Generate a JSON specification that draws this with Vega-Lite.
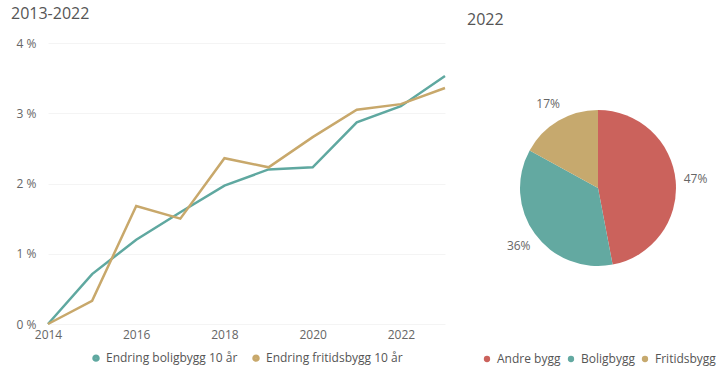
{
  "$schema": "https://vega.github.io/schema/vega-lite/v6.json",
  "background": "white",
  "padding": {"left": 11, "top": 6, "right": 0, "bottom": 0},
  "spacing": 17,
  "resolve": {"scale": {"color": "independent"}, "legend": {"color": "independent"}},
  "config": {
    "view": {"stroke": null},
    "font": "Open Sans",
    "title": {"fontSize": 16, "fontWeight": "normal", "color": "#555555", "anchor": "start"},
    "axis": {"labelColor": "#666666", "labelFontSize": 12, "grid": false, "domain": false, "ticks": false},
    "legend": {"labelColor": "#555555", "labelFontSize": 12, "symbolType": "circle", "symbolSize": 40, "orient": "bottom", "direction": "horizontal", "title": null, "columnPadding": 4, "symbolOffset": 0, "layout": {"bottom": {"anchor": "middle"}}}
  },
  "datasets": {
    "linjer": [
      {"year": 2014, "serie": "Endring boligbygg 10 år", "value": 0},
      {"year": 2015, "serie": "Endring boligbygg 10 år", "value": 0.71},
      {"year": 2016, "serie": "Endring boligbygg 10 år", "value": 1.2},
      {"year": 2017, "serie": "Endring boligbygg 10 år", "value": 1.59},
      {"year": 2018, "serie": "Endring boligbygg 10 år", "value": 1.97},
      {"year": 2019, "serie": "Endring boligbygg 10 år", "value": 2.2},
      {"year": 2020, "serie": "Endring boligbygg 10 år", "value": 2.23},
      {"year": 2021, "serie": "Endring boligbygg 10 år", "value": 2.87},
      {"year": 2022, "serie": "Endring boligbygg 10 år", "value": 3.1},
      {"year": 2023, "serie": "Endring boligbygg 10 år", "value": 3.53},
      {"year": 2014, "serie": "Endring fritidsbygg 10 år", "value": 0},
      {"year": 2015, "serie": "Endring fritidsbygg 10 år", "value": 0.33},
      {"year": 2016, "serie": "Endring fritidsbygg 10 år", "value": 1.68},
      {"year": 2017, "serie": "Endring fritidsbygg 10 år", "value": 1.5},
      {"year": 2018, "serie": "Endring fritidsbygg 10 år", "value": 2.36},
      {"year": 2019, "serie": "Endring fritidsbygg 10 år", "value": 2.23},
      {"year": 2020, "serie": "Endring fritidsbygg 10 år", "value": 2.66},
      {"year": 2021, "serie": "Endring fritidsbygg 10 år", "value": 3.05},
      {"year": 2022, "serie": "Endring fritidsbygg 10 år", "value": 3.13},
      {"year": 2023, "serie": "Endring fritidsbygg 10 år", "value": 3.36}
    ],
    "kake": [
      {"kategori": "Andre bygg", "andel": 0.47},
      {"kategori": "Boligbygg", "andel": 0.36},
      {"kategori": "Fritidsbygg", "andel": 0.17}
    ]
  },
  "hconcat": [
    {
      "title": {"text": "2013-2022", "frame": "bounds", "dx": -5, "offset": 15},
      "width": 397,
      "height": 281,
      "data": {"name": "linjer"},
      "mark": {"type": "line", "strokeWidth": 2.5},
      "encoding": {
        "x": {
          "field": "year", "type": "quantitative",
          "scale": {"domain": [2014, 2023], "nice": false, "zero": false},
          "axis": {"title": null, "values": [2014, 2016, 2018, 2020, 2022], "format": "d", "labelPadding": 5, "labelFlush": false}
        },
        "y": {
          "field": "value", "type": "quantitative",
          "scale": {"domain": [0, 4], "nice": false},
          "axis": {"title": null, "values": [0, 1, 2, 3, 4], "labelExpr": "datum.value + ' %'", "labelPadding": 32, "grid": true, "gridColor": "#F4F4F4", "labelAlign": "left", "labelBaseline": "middle"}
        },
        "color": {
          "field": "serie", "type": "nominal",
          "scale": {"domain": ["Endring boligbygg 10 år", "Endring fritidsbygg 10 år"], "range": ["#5FA8A0", "#C8A86B"]},
          "legend": {"offset": 12, "symbolSize": 12, "symbolStrokeWidth": 4, "columnPadding": 8}
        }
      }
    },
    {
      "title": {"text": "2022", "frame": "group", "dx": -6, "offset": 15},
      "width": 250,
      "height": 290,
      "data": {"name": "kake"},
      "encoding": {
        "theta": {"field": "andel", "type": "quantitative", "stack": true},
        "order": {"field": "kategori", "sort": "ascending"},
        "color": {
          "field": "kategori", "type": "nominal",
          "scale": {"domain": ["Andre bygg", "Boligbygg", "Fritidsbygg"], "range": ["#CB625C", "#63A9A1", "#C6A96E"]},
          "legend": {"offset": 20}
        }
      },
      "layer": [
        {"mark": {"type": "arc", "outerRadius": 78}},
        {
          "mark": {"type": "text", "radius": 98, "fontSize": 12, "color": "#666666"},
          "encoding": {"text": {"field": "andel", "type": "quantitative", "format": ".0%"}, "detail": {"field": "kategori"}, "color": {"value": "#666666"}}
        }
      ]
    }
  ]
}
